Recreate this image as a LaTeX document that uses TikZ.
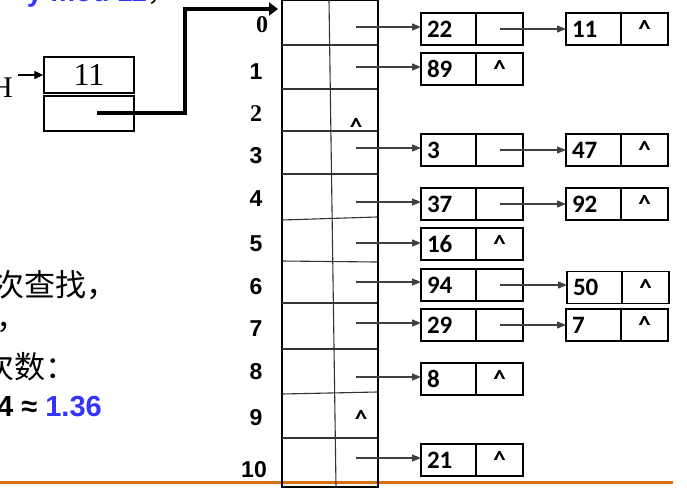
\documentclass[tikz,border=0pt]{standalone}
\usepackage{fontspec}
\usepackage{tikz}
\usetikzlibrary{positioning,arrows.meta}
\newfontfamily\calfont{Carlito}
\newfontfamily\arialfont{Liberation Sans}
\newfontfamily\timesfont{Liberation Serif}
\newfontfamily\cjkfont{Noto Sans CJK SC}
\definecolor{hashblue}{RGB}{51,51,255}
\definecolor{rulebrown}{RGB}{214,112,20}
\tikzset{
	keybox/.style={draw, line width=1.3pt, outer sep=0pt, minimum height=32pt, text width=43pt, inner xsep=6pt, inner ysep=0pt, align=left, font=\calfont\bfseries\fontsize{25}{26}\selectfont},
	ptrbox/.style={draw, line width=1.3pt, outer sep=0pt, minimum height=32pt, minimum width=47pt, inner sep=0pt, font=\calfont\bfseries\fontsize{25}{26}\selectfont},
	link/.style={draw=black!75, line width=1.2pt, -{Triangle[length=9pt,width=7pt]}},
	idx/.style={inner sep=0pt, font=\arialfont\bfseries\fontsize{23}{24}\selectfont},
	idxserif/.style={inner sep=0pt, font=\timesfont\bfseries\fontsize{24}{24}\selectfont},
	caret/.style={inner sep=0pt, font=\calfont\bfseries\fontsize{25}{26}\selectfont},
	cell/.style={line width=1.1pt, draw=black!80},
}

\begin{document}
\begin{tikzpicture}[x=1pt,y=-1pt]
		%%%%% START %%%%%
		\useasboundingbox (0,0) rectangle (687,491);
		\clip (0,0) rectangle (687,491);
		
		% text cut at the left edge
		\node[anchor=base east, inner sep=0pt, text=hashblue, font=\arialfont\bfseries\fontsize{28}{30}\selectfont] (modtxt) at (147,1) {y mod 11};
		\node[anchor=base west, inner sep=0pt, font=\cjkfont\fontsize{28}{30}\selectfont] (comma0) at (modtxt.base east) {，};
		\node[anchor=west, inner sep=0pt, font=\cjkfont\fontsize{31}{32}\selectfont] (t1) at (-7,285) {次查找，};
		\node[anchor=west, inner sep=0pt, font=\cjkfont\fontsize{31}{32}\selectfont] (t2) at (-4,328) {，};
		\node[anchor=west, inner sep=0pt, font=\cjkfont\fontsize{31}{32}\selectfont] (t3) at (-17,367) {次数：};
		\node[anchor=west, inner sep=0pt, font=\arialfont\bfseries\fontsize{29}{30}\selectfont] (t4) at (-3,407) {4 ≈ \textcolor{hashblue}{1.36}};
		
		\draw[line width=3pt, color=rulebrown] (0,482) -- (673,482);
		
		% head node
		\node[inner sep=0pt, font=\timesfont\fontsize{30}{30}\selectfont] (hlab) at (2,88) {H};
		\node[draw, line width=1.3pt, minimum width=90pt, minimum height=36pt, font=\timesfont\fontsize{32}{32}\selectfont] (hv) at (89,75) {11};
		\node[draw, line width=1.3pt, minimum width=90pt, minimum height=35pt] (hp) at (89,113.5) {};
		\coordinate (hs) at (18,75);
		\draw[line width=1.2pt, -{Triangle[length=9pt,width=8pt]}] (hs) -- (hv);
		\coordinate (hps) at (97,113);
		\coordinate (tab) at (278,9);
		\draw[line width=4pt, -{Triangle[length=9pt,width=13pt]}] (hps) -- ++(88,0) |- (tab);
		
		% hash table
		\draw[line width=1.4pt] (282,0) rectangle (378,487);
		\draw[cell] (329,0) -- (336,487);
		\draw[cell] (282,45) -- (377,45);
		\draw[cell] (282,89) -- (377,89);
		\draw[cell] (282,131) -- (377,131);
		\draw[cell] (282,174) -- (377,174);
		\draw[cell] (282,220) -- (377,217);
		\draw[cell] (282,261) -- (377,262);
		\draw[cell] (282,303) -- (377,303);
		\draw[cell] (282,349) -- (377,349);
		\draw[cell] (282,394) -- (377,392);
		\draw[cell] (282,438) -- (377,438);
		
		\node[idxserif] (i0) at (262,25) {0};
		\node[idx] (i1) at (256,72) {1};
		\node[idxserif] (i2) at (256,114) {2};
		\node[idx] (i3) at (256,156) {3};
		\node[idx] (i4) at (256,199) {4};
		\node[idx] (i5) at (256,244) {5};
		\node[idx] (i6) at (256,287) {6};
		\node[idx] (i7) at (256,329) {7};
		\node[idx] (i8) at (256,372) {8};
		\node[idx] (i9) at (256,418) {9};
		\node[idx] (i10) at (254,470) {10};
		
		\node[caret] (c2) at (356,127) {\textasciicircum};
		\node[caret] (c9) at (361,419) {\textasciicircum};
		
		% chains
		\node[keybox, anchor=west] (k0) at (421,29) {22};
		\node[ptrbox, right=0pt of k0] (p0) {};
		\node[keybox, anchor=west] (n0) at (566,29) {11};
		\node[ptrbox, right=0pt of n0] (q0) {\textasciicircum};
		
		\node[keybox, anchor=west] (k1) at (421,69) {89};
		\node[ptrbox, right=0pt of k1] (p1) {\textasciicircum};
		
		\node[keybox, anchor=west] (k3) at (421,150) {3};
		\node[ptrbox, right=0pt of k3] (p3) {};
		\node[keybox, anchor=west] (n3) at (566,150) {47};
		\node[ptrbox, right=0pt of n3] (q3) {\textasciicircum};
		
		\node[keybox, anchor=west] (k4) at (421,204) {37};
		\node[ptrbox, right=0pt of k4] (p4) {};
		\node[keybox, anchor=west] (n4) at (566,204) {92};
		\node[ptrbox, right=0pt of n4] (q4) {\textasciicircum};
		
		\node[keybox, anchor=west] (k5) at (421,244) {16};
		\node[ptrbox, right=0pt of k5] (p5) {\textasciicircum};
		
		\node[keybox, anchor=west] (k6) at (421,285) {94};
		\node[ptrbox, right=0pt of k6] (p6) {};
		\node[keybox, anchor=west] (n6) at (567,287.5) {50};
		\node[ptrbox, right=0pt of n6] (q6) {\textasciicircum};
		
		\node[keybox, anchor=west] (k7) at (421,325) {29};
		\node[ptrbox, right=0pt of k7] (p7) {};
		\node[keybox, anchor=west] (n7) at (566,325) {7};
		\node[ptrbox, right=0pt of n7] (q7) {\textasciicircum};
		
		\node[keybox, anchor=west] (k8) at (421,379) {8};
		\node[ptrbox, right=0pt of k8] (p8) {\textasciicircum};
		
		\node[keybox, anchor=west] (k10) at (421,460) {21};
		\node[ptrbox, right=0pt of k10] (p10) {\textasciicircum};
		
		% links out of the table
		\coordinate (r0) at (356,27);
		\coordinate (r1) at (356,67);
		\coordinate (r3) at (356,148);
		\coordinate (r4) at (356,202);
		\coordinate (r5) at (356,243);
		\coordinate (r6) at (356,282);
		\coordinate (r7) at (356,323);
		\coordinate (r8) at (356,377);
		\coordinate (r10) at (356,458);
		\draw[link] (r0) -- (r0 -| k0.west);
		\draw[link] (r1) -- (r1 -| k1.west);
		\draw[link] (r3) -- (r3 -| k3.west);
		\draw[link] (r4) -- (r4 -| k4.west);
		\draw[link] (r5) -- (r5 -| k5.west);
		\draw[link] (r6) -- (r6 -| k6.west);
		\draw[link] (r7) -- (r7 -| k7.west);
		\draw[link] (r8) -- (r8 -| k8.west);
		\draw[link] (r10) -- (r10 -| k10.west);
		
		\draw[link] (p0.center) -- (p0.center -| n0.west);
		\draw[link] (p3.center) -- (p3.center -| n3.west);
		\draw[link] (p4.center) -- (p4.center -| n4.west);
		\draw[link] (p6.center) -- (p6.center -| n6.west);
		\draw[link] (p7.center) -- (p7.center -| n7.west);
		
		%%%%% END %%%%%
\end{tikzpicture}
\end{document}
